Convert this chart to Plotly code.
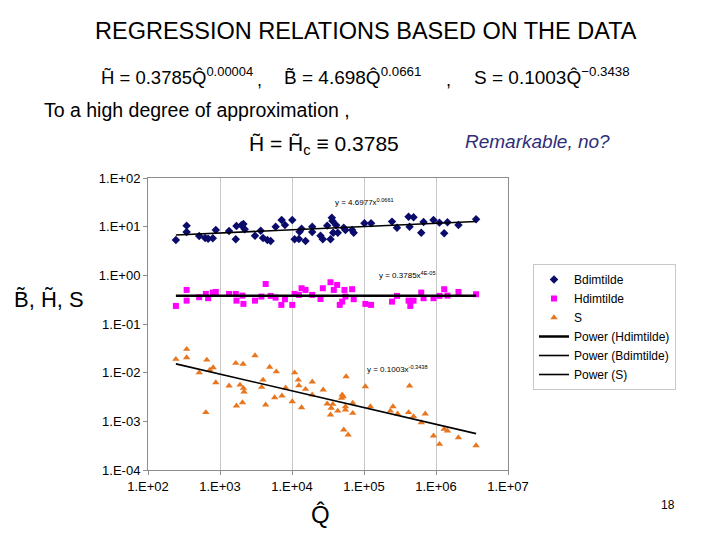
import numpy as np
import plotly.graph_objects as go

# ---------------- data ----------------
Q_B = [244, 344, 344, 514, 622, 684, 795, 875, 1337, 1656, 1693, 1986, 2115, 2205, 3063, 3673,
       3954, 4550, 5055, 5929, 7178, 7980, 10090, 10870, 12470, 12740, 13580, 15420, 19100, 19100,
       24890, 26790, 30830, 34260, 35730, 36500, 37330, 41090, 43250, 52360, 55210, 68390, 71960,
       101400, 125400, 244900, 287100, 415900, 429500, 487600, 623700, 671500, 922500, 1117000,
       1300000, 1443000, 2051000, 3604000]
B_dimtilde = [5.33, 10.5, 7.78, 6.44, 5.86, 5.67, 5.78, 8.56, 8.16, 5.51,
              10.3, 10.7, 11.4, 8.84, 6.53, 8.27, 5.86, 5.33, 5.08, 10.0,
              13.7, 10.8, 13.7, 5.51, 5.59, 7.89, 9.10, 5.08, 10.0, 7.78,
              6.53, 5.51, 10.5, 5.51, 15.3, 13.1, 7.53, 10.7, 7.53, 9.53,
              8.56, 8.56, 7.53, 11.7, 11.7, 12.7, 9.53, 16.0, 10.0, 15.6,
              7.53, 12.5, 13.7, 12.1, 7.32, 12.3, 10.8, 14.2]

Q_H = [244, 344, 344, 514, 636, 684, 795, 875, 1337, 1656, 1693, 2050, 2115, 3063, 3755, 4307,
       5055, 5929, 7108, 7980, 10090, 10870, 12470, 13580, 15420, 19100, 24890, 26790, 34260,
       38040, 42380, 46040, 49770, 53550, 55210, 68390, 71960, 104500, 125400, 244900, 287100,
       415900, 439500, 487600, 623700, 671500, 922500, 1117000, 1300000, 1443000, 2051000, 3604000]
H_dimtilde = [0.235, 0.501, 0.302, 0.355, 0.415, 0.339, 0.442, 0.456, 0.415, 0.415,
              0.302, 0.383, 0.259, 0.302, 0.366, 0.665, 0.378, 0.348, 0.247, 0.323,
              0.247, 0.415, 0.396, 0.543, 0.501, 0.396, 0.327, 0.543, 0.721, 0.501,
              0.635, 0.247, 0.288, 0.501, 0.366, 0.519, 0.323, 0.259, 0.247, 0.288,
              0.378, 0.302, 0.235, 0.302, 0.442, 0.339, 0.339, 0.378, 0.519, 0.383,
              0.456, 0.409]

Q_S = [244, 344, 344, 514, 636, 656, 722, 802, 875, 1337, 1656, 1693, 1897, 2089, 2050, 2115,
       2158, 3063, 3793, 3954, 4307, 4894, 5741, 6063, 7245, 8150, 10090, 10870, 12220, 12470,
       13580, 15420, 19100, 19100, 27130, 30830, 34260, 35010, 36880, 43250, 48640, 49770, 51400,
       52360, 55210, 55210, 56490, 60260, 69790, 69790, 104500, 122700, 232100, 252900, 293100,
       415900, 429500, 487600, 623700, 708300, 922500, 1117000, 1300000, 1443000, 2051000, 3604000]
S_vals = [0.0189, 0.0304, 0.0204, 0.0100, 0.00152, 0.0183, 0.0114, 0.0127, 0.00627, 0.00536,
          0.0157, 0.00208, 0.00561, 0.0150, 0.00243, 0.00481, 0.00404, 0.0224, 0.00504, 0.00711,
          0.00218, 0.0130, 0.00308, 0.0105, 0.00334, 0.00488, 0.00255, 0.0100, 0.00711, 0.00543,
          0.00192, 0.00458, 0.00647, 0.00350, 0.00444, 0.00229, 0.00136, 0.00187, 0.00225, 0.00164,
          0.00299, 0.00350, 0.00323, 0.000669, 0.00172, 0.00201, 0.00832, 0.000528, 0.00147, 0.00237,
          0.00518, 0.00201, 0.00164, 0.00201, 0.00143, 0.00152, 0.00536, 0.00126, 0.000945, 0.00143,
          0.000504, 0.000340, 0.000692, 0.000638, 0.000465, 0.000318]

# power-law trendline coefficients (a, b) for y = a * x^b, as printed on the chart
fit_B = [4.6977, 0.0661]
fit_H = [0.3785, 0.00004]
fit_S = [0.1003, -0.3438]

x_tickvals = [1e2, 1e3, 1e4, 1e5, 1e6, 1e7]
x_ticktext = ["1.E+02", "1.E+03", "1.E+04", "1.E+05", "1.E+06", "1.E+07"]
y_tickvals = [1e-4, 1e-3, 1e-2, 1e-1, 1e0, 1e1, 1e2]
y_ticktext = ["1.E-04", "1.E-03", "1.E-02", "1.E-01", "1.E+00", "1.E+01", "1.E+02"]

# ---------------- figure ----------------
W, H = 720, 540
L, R, T, Bm = 148, 508, 178, 470  # plot area in pixels


def px(x):
    return (x - L) / (R - L)


def py(y):
    return (Bm - y) / (Bm - T)


def power_line(q, fit):
    xs = np.array([min(q), max(q)], dtype=float)
    return xs, fit[0] * xs ** fit[1]


FONT = "Liberation Sans, Arial, sans-serif"
C_B = "#0b0b6b"
C_H = "#ff00ff"
C_S = "#e8761f"

fig = go.Figure()
fig.add_trace(go.Scatter(x=Q_B, y=B_dimtilde, mode="markers", name="Bdimtilde",
                         marker=dict(symbol="diamond", size=6.5, color=C_B)))
fig.add_trace(go.Scatter(x=Q_H, y=H_dimtilde, mode="markers", name="Hdimtilde",
                         marker=dict(symbol="square", size=6, color=C_H)))
fig.add_trace(go.Scatter(x=Q_S, y=S_vals, mode="markers", name="S",
                         marker=dict(symbol="triangle-up", size=6.5, color=C_S)))

xh, yh = power_line(Q_H, fit_H)
fig.add_trace(go.Scatter(x=xh, y=yh, mode="lines", name="Power (Hdimtilde)",
                         line=dict(color="black", width=2.5)))
xb, yb = power_line(Q_B, fit_B)
fig.add_trace(go.Scatter(x=xb, y=yb, mode="lines", name="Power (Bdimtilde)",
                         line=dict(color="black", width=1.6)))
xs, ys = power_line(Q_S, fit_S)
fig.add_trace(go.Scatter(x=xs, y=ys, mode="lines", name="Power (S)",
                         line=dict(color="black", width=1.6)))

fig.update_xaxes(type="log", range=[2, 7], tickvals=x_tickvals, ticktext=x_ticktext,
                 showgrid=True, gridcolor="#c8c8c8", gridwidth=1,
                 showline=True, linecolor="#8c8c8c", linewidth=1, mirror=True,
                 zeroline=False, ticks="outside", ticklen=4, tickcolor="#8c8c8c",
                 tickfont=dict(family=FONT, size=13, color="black"))
fig.update_yaxes(type="log", range=[-4, 2], tickvals=y_tickvals, ticktext=y_ticktext,
                 showgrid=False, showline=True, linecolor="#8c8c8c", linewidth=1, mirror=True,
                 zeroline=False, ticks="outside", ticklen=4, tickcolor="#8c8c8c",
                 tickfont=dict(family=FONT, size=13, color="black"))

annotations = []


def txt(text, x, y, size, xanchor="left", yanchor="middle", color="black", italic=False):
    annotations.append(dict(text=text, x=px(x), y=py(y), xref="paper", yref="paper",
                            showarrow=False, xanchor=xanchor, yanchor=yanchor,
                            font=dict(family=FONT, size=size, color=color,
                                      style="italic" if italic else "normal")))


txt("REGRESSION RELATIONS BASED ON THE DATA", 366, 31, 23.5, xanchor="center")
txt("H\u0303 = 0.3785Q\u0302<sup>0.00004</sup>", 99, 76, 18.5)
txt(",", 255, 80, 18)
txt("B\u0303 = 4.698Q\u0302<sup>0.0661</sup>", 282, 76, 19)
txt(",", 444, 80, 18)
txt("S = 0.1003Q\u0302<sup>\u22120.3438</sup>", 472, 76, 19)
txt("To a high degree of approximation ,", 42, 110, 19.5)
txt("H\u0303 = H\u0303<sub>c</sub> \u2261 0.3785", 247, 145, 21)
txt("Remarkable, no?", 463, 141, 19, color="#2e2e78", italic=True)
txt("B\u0303, H\u0303, S", 12, 299, 22)
txt("Q\u0302", 320, 514, 24, xanchor="center")
txt("18", 668, 505, 12, xanchor="center")
txt("y = 4.6977x<sup>0.0661</sup>", 333, 202, 8)
txt("y = 0.3785x<sup>4E-05</sup>", 377, 275, 8)
txt("y = 0.1003x<sup>-0.3438</sup>", 365, 369, 8)

fig.update_layout(
    width=W, height=H,
    margin=dict(l=L, r=W - R, t=T, b=H - Bm, pad=0),
    paper_bgcolor="white", plot_bgcolor="white",
    showlegend=True,
    legend=dict(x=px(533), y=py(264), xanchor="left", yanchor="top",
                bordercolor="#c8c8c8", borderwidth=1, bgcolor="white",
                font=dict(family=FONT, size=12, color="black"),
                itemwidth=30, tracegroupgap=0),
    annotations=annotations,
)

fig.write_html("out.html", config={"displayModeBar": False},
               post_script="document.body.style.margin='0';")
